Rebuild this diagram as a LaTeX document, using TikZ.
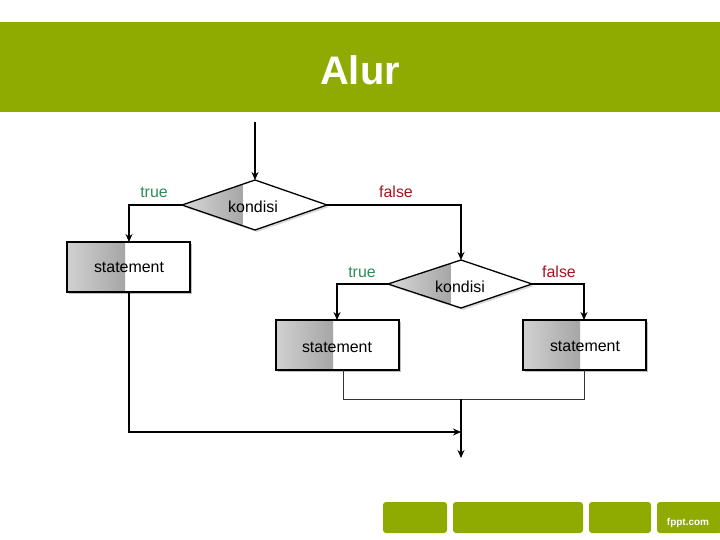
\documentclass[tikz,border=0pt]{standalone}
\usepackage{fontspec}
\setmainfont{Liberation Sans}
\usetikzlibrary{arrows.meta,shadows}
\definecolor{hgreen}{HTML}{8FAA00}
\definecolor{tgreen}{HTML}{2E8B57}
\definecolor{fred}{HTML}{A0141E}
\begin{document}
\begin{tikzpicture}[x=1bp,y=-1bp,
  conn/.style={line width=1.3pt,-{Stealth[length=8pt,width=7pt]}},
  line/.style={line width=1.3pt},
  thin/.style={line width=0.6pt,draw=black!80},
  lbl/.style={font=\fontsize{16}{18}\selectfont},
  tl/.style={lbl,text=tgreen},
  fl/.style={lbl,text=fred},
  foot/.style={fill=hgreen,rounded corners=3bp}]
\useasboundingbox (0,0) rectangle (720,540);
\fill[hgreen] (0,22) rectangle (720,112);
\node (title) [text=white,font=\bfseries\fontsize{40}{44}\selectfont,
  drop shadow={shadow xshift=1.5pt,shadow yshift=-1.5pt,opacity=0}] at (360,70) {Alur};
% diamond 1
\fill[black!15] (184,207)--(257,182)--(329,207)--(257,232)--cycle;
\shade[left color=black!15,right color=black!35] (182,205)--(243,184.2)--(243,225.8)--cycle;
\fill[white] (243,184.2)--(255,180)--(327,205)--(255,230)--(243,225.8)--cycle;
\draw[line] (182,205)--(255,180)--(327,205)--(255,230)--cycle;
\node (d1) [lbl] at (253,207) {kondisi};
\coordinate (d1t) at (255,180); \coordinate (d1l) at (182,205); \coordinate (d1r) at (327,205);
% diamond 2
\fill[black!15] (390,286)--(463,262)--(534,286)--(463,310)--cycle;
\shade[left color=black!15,right color=black!35] (388,284)--(451,263)--(451,305)--cycle;
\fill[white] (451,263)--(461,260)--(532,284)--(461,308)--(451,305)--cycle;
\draw[line] (388,284)--(461,260)--(532,284)--(461,308)--cycle;
\node (d2) [lbl] at (460,287) {kondisi};
\coordinate (d2t) at (461,260); \coordinate (d2l) at (388,284); \coordinate (d2r) at (532,284);
% statements
\foreach \x/\y/\g in {67/242/125, 276/320/333, 523/320/580}{
  \fill[black!25] (\x+2,\y+2) rectangle (\x+125,\y+52);
  \fill[white] (\x,\y) rectangle (\x+123,\y+50);
  \shade[left color=black!18,right color=black!35] (\x,\y) rectangle (\g,\y+50);
  \draw[line] (\x,\y) rectangle (\x+123,\y+50);
}
\node (s1) [lbl] at (129,267) {statement};
\node (s2) [lbl] at (337,347) {statement};
\node (s3) [lbl] at (585,346) {statement};
\coordinate (s1t) at (129,242); \coordinate (s1b) at (129,292);
\coordinate (s2t) at (337,320); \coordinate (s2b) at (343,370);
\coordinate (s3t) at (584,320); \coordinate (s3b) at (584,370);
\coordinate (top) at (255,122);
\coordinate (j) at (461,399); \coordinate (endp) at (461,458); \coordinate (m) at (461,432);
\draw[conn] (top)--(d1t);
\draw[conn] (d1l)-|(s1t);
\draw[conn] (d1r)-|(d2t);
\draw[conn] (d2l)-|(s2t);
\draw[conn] (d2r)-|(s3t);
\draw[thin] (s2b)--(343,399)--(584,399)--(s3b);
\draw[conn] (j)--(endp);
\draw[conn] (s1b)|-(m);
\node (t1) [tl] at (154,192) {true};
\node (f1) [fl] at (396,192) {false};
\node (t2) [tl] at (362,272) {true};
\node (f2) [fl] at (559,272) {false};
% footer
\fill[foot] (383,502) rectangle (447,533);
\fill[foot] (453,502) rectangle (583,533);
\fill[foot] (589,502) rectangle (651,533);
\fill[foot] (657,502) rectangle (722,533);
\node (fp) [text=white,font=\bfseries\fontsize{10}{11}\selectfont] at (688,523) {fppt.com};
\end{tikzpicture}
\end{document}
